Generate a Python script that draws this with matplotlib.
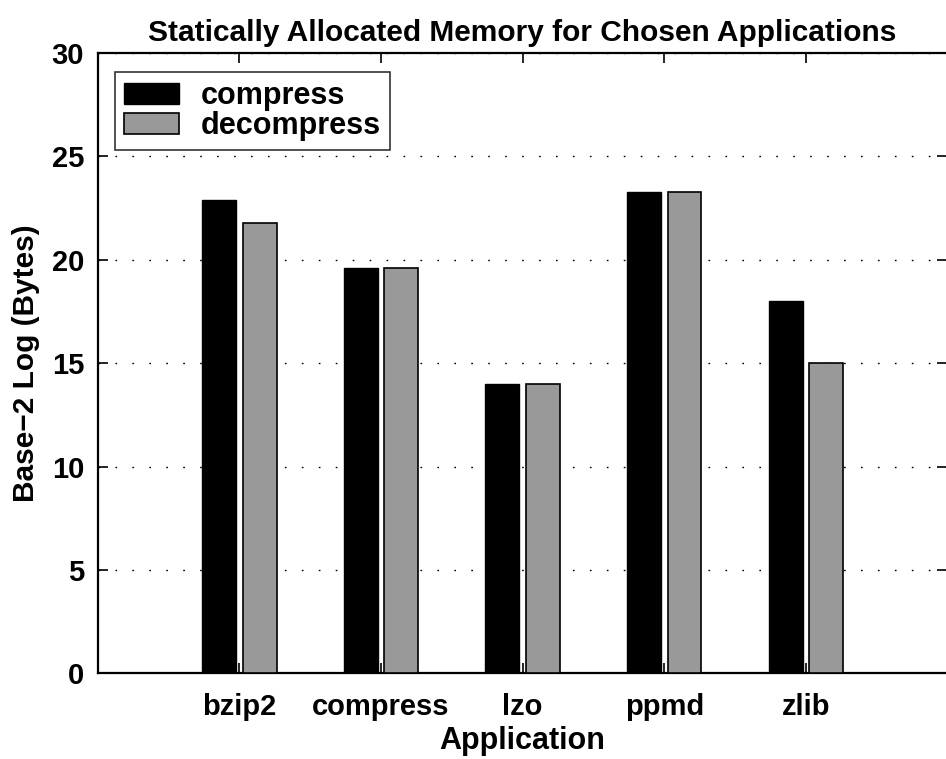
import numpy as np
import matplotlib
matplotlib.use("Agg")
import matplotlib.pyplot as plt

# log2 of static memory per application
apps = ["bzip2", "compress", "lzo", "ppmd", "zlib"]
compress_mem = [22.9, 19.6, 14.0, 23.3, 18.0]
decompress_mem = [21.8, 19.6, 14.0, 23.3, 15.0]

plt.rcParams["font.family"] = ["Liberation Sans", "DejaVu Sans"]
plt.rcParams["font.weight"] = "bold"

fig = plt.figure(figsize=(9.46, 7.59), dpi=100)
ax = fig.add_axes([0.1035, 0.113, 0.898, 0.817])

x = np.arange(1, len(apps) + 1)
width = 0.24
off = 0.143

ax.bar(x - off, compress_mem, width, color="black", edgecolor="black", linewidth=1, label="compress", zorder=3)
ax.bar(x + off, decompress_mem, width, color="#999999", edgecolor="black", linewidth=1.2, label="decompress", zorder=3)

ax.set_xlim(0, 6)
ax.set_ylim(0, 30)
ax.set_xticks(x)
ax.set_xticklabels(apps)
ax.set_yticks(np.arange(0, 31, 5))

ax.yaxis.grid(True, color="black", linestyle=(0, (1.2, 11)), linewidth=1.0)
ax.set_axisbelow(True)

ax.tick_params(axis="both", direction="in", length=7, width=1.2, labelsize=21,
               top=True, right=True)
ax.tick_params(axis="x", pad=14)
ax.tick_params(axis="y", pad=10)
for s in ax.spines.values():
    s.set_linewidth(1.6)

ax.set_title("Statically Allocated Memory for Chosen Applications", fontsize=21.5, fontweight="bold", pad=9)
ax.set_xlabel("Application", fontsize=22, fontweight="bold", labelpad=4)
ax.set_ylabel("Base\u22122 Log (Bytes)", fontsize=21.5, fontweight="bold", labelpad=8)

leg = ax.legend(loc="upper left", fontsize=22, frameon=True, fancybox=False,
                edgecolor="black", handlelength=1.8, handleheight=0.7,
                borderpad=0.3, labelspacing=0.0, handletextpad=0.7,
                borderaxespad=0, bbox_to_anchor=(0.02, 0.97))
leg.get_frame().set_linewidth(1.2)
for t in leg.get_texts():
    t.set_fontweight("bold")

fig.savefig("out.png", dpi=100)
